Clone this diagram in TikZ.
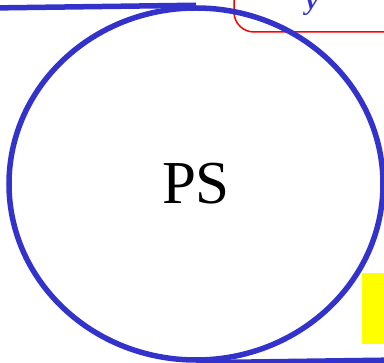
\documentclass[tikz,border=0pt]{standalone}
\usepackage{fontspec}
\setmainfont{Liberation Serif}
\usetikzlibrary{shapes.geometric}
\definecolor{psblue}{HTML}{3333CC}
\definecolor{hiyellow}{HTML}{FFFF00}
\tikzset{
  bigoval/.style={ellipse, draw=psblue, line width=5.5pt, inner sep=0pt,
    minimum width=374pt, minimum height=352pt, font=\fontsize{61}{61}\selectfont},
  wire/.style={draw=psblue, line width=5.5pt},
  frame/.style={draw=red, line width=1.5pt, rounded corners=20pt},
  tag/.style={text=psblue, font=\bfseries\itshape\fontsize{28}{28}\selectfont, inner sep=0pt},
}
\begin{document}
\begin{tikzpicture}[x=1pt,y=-1pt]
  \useasboundingbox (0,0) rectangle (384,363);
  \clip (0,0) rectangle (384,363);
  % highlight block and framed area
  \fill[hiyellow] (362,273) rectangle (390,344);
  \draw[frame] (234,-40) -- (234,32) -- (420,32);
  \node[tag, anchor=base] (ylab) at (312,10) {y};
  % the oval and its feeding lines
  \node[bigoval] (ps) at (196,184) {PS};
  \coordinate (inl) at (-10,8);
  \coordinate (outr) at (400,360);
  \draw[wire] (inl) -- (ps.north);
  \draw[wire] (ps.south) -- (outr);
\end{tikzpicture}
\end{document}
